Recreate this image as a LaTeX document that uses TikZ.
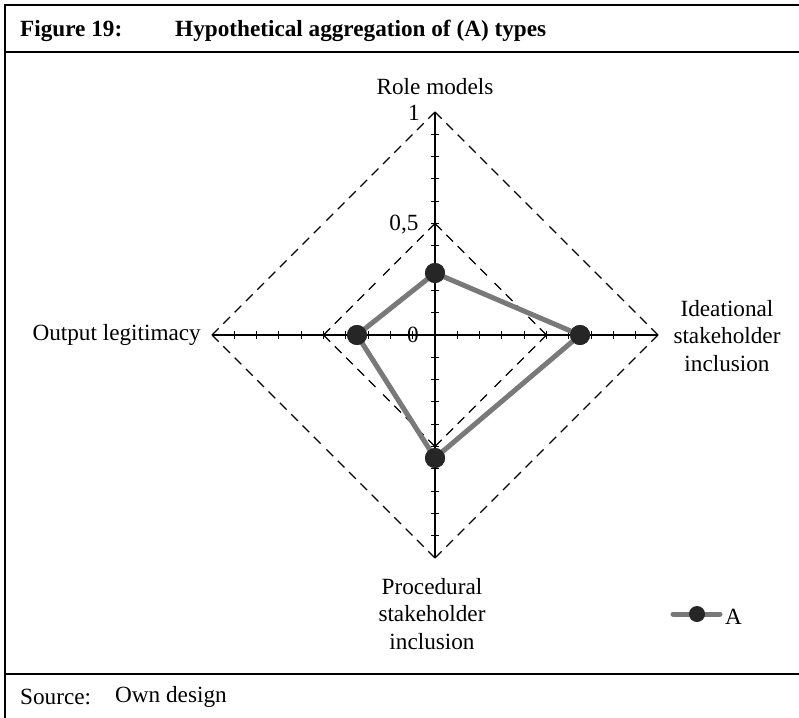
\documentclass[tikz,border=0pt]{standalone}
\usepackage{fontspec}
\setmainfont{Liberation Serif}
\usetikzlibrary{calc}
\begin{document}
\begin{tikzpicture}[x=1bp,y=-1bp,
  every node/.style={font=\fontsize{23.3}{27.8}\selectfont, inner sep=0pt},
  headfont/.style={font=\fontsize{23.3}{27.8}\selectfont\bfseries},
  frame/.style={line width=2.2bp, black},
  axis/.style={line width=1.1bp, black},
  grid/.style={line width=1.1bp, black, dash pattern=on 9.5bp off 6.5bp},
  series/.style={line width=5bp, gray!95!black, line cap=round, line join=round},
  datadot/.style={circle, fill=black!85, minimum size=20bp},
  lab/.style={align=center}]
\useasboundingbox (0,0) rectangle (799,718);

% frame of the figure box
\draw[frame] (5,718) -- (5,5) -- (799,5);
\draw[frame] (5,52) -- (799,52);
\draw[frame] (5,674) -- (799,674);

% heading and source line
\node[anchor=base west, headfont] (fig) at (20,37) {Figure 19:};
\node[anchor=base west, headfont] (title) at (175,37) {Hypothetical aggregation of (A) types};
\node[anchor=west] (src) at (20,697) {Source:};
\node[anchor=west] (srcv) at (115,697) {Own design};

% radar geometry: centre and axis ends (radius 223)
\coordinate (C) at (435,335);
\coordinate (T1) at (435,112);
\coordinate (R1) at (658,335);
\coordinate (B1) at (435,558);
\coordinate (L1) at (212,335);
\coordinate (T5) at (435,223.5);
\coordinate (R5) at (546.5,335);
\coordinate (B5) at (435,446.5);
\coordinate (L5) at (323.5,335);

% dashed diamonds, each side drawn outward from both vertices
\foreach \a/\b in {T1/R1,R1/B1,B1/L1,L1/T1,T5/R5,R5/B5,B5/L5,L5/T5}{
  \draw[grid] (\a) -- ($(\a)!0.5!(\b)$);
  \draw[grid] (\b) -- ($(\b)!0.5!(\a)$);
}

% axes with tick marks every 0.1
\draw[axis] (T1) -- (B1);
\draw[axis] (L1) -- (R1);
\foreach \i in {1,...,9}{
  \draw[axis] ($(C)+(-4,-22.3*\i)$) -- ++(8,0);
  \draw[axis] ($(C)+(-4,22.3*\i)$) -- ++(8,0);
  \draw[axis] ($(C)+(22.3*\i,-4)$) -- ++(0,8);
  \draw[axis] ($(C)+(-22.3*\i,-4)$) -- ++(0,8);
}

% scale labels
\node (s1) at (414,113) {1};
\node (s05) at (404,225) {0,5};
\node (s0) at (413,335) {0};

% axis titles
\node[lab] (rm) at (435,87) {Role models};
\node[lab] (ide) at (727,336) {Ideational\\stakeholder\\inclusion};
\node[lab] (proc) at (432,614) {Procedural\\stakeholder\\inclusion};
\node[anchor=east] (out) at (201,335) {Output legitimacy};

% series A
\node[datadot] (pRM) at (435,273) {};
\node[datadot] (pID) at (580,335) {};
\node[datadot] (pPR) at (435,458) {};
\node[datadot] (pOL) at (357,335) {};
\draw[series] (pRM.center) -- (pID.center) -- (pPR.center) -- (pOL.center) -- cycle;
\foreach \p in {pRM,pID,pPR,pOL}{\node[datadot] at (\p) {};}

% legend
\coordinate (lgA) at (673,614);
\coordinate (lgB) at (720,614);
\draw[series] (lgA) -- (lgB);
\node[datadot, minimum size=16bp] (lgdot) at (697,614) {};
\node[anchor=west] (lgtext) at (725,617) {A};
\end{tikzpicture}
\end{document}
